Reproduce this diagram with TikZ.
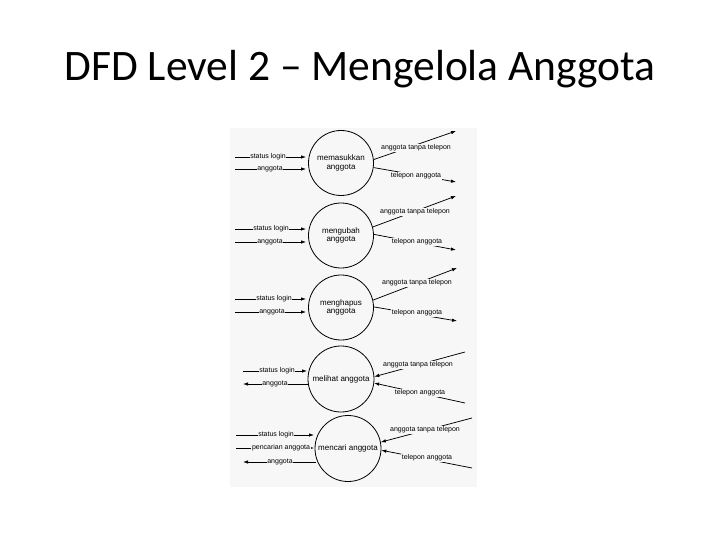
\documentclass[tikz,border=0pt]{standalone}
\usepackage{fontspec}
\setmainfont{Carlito}
\newfontfamily\arialf{Liberation Sans}
\usetikzlibrary{arrows.meta}
\definecolor{scanbg}{HTML}{F7F7F8}
\tikzset{
  proc/.style={circle, draw, line width=0.8pt, minimum size=65pt, inner sep=0pt,
    align=center, font=\arialf\fontsize{8}{8.5}\selectfont},
  flow/.style={line width=0.75pt, -{Latex[length=5pt,width=3.5pt]}},
  lab/.style={fill=scanbg, inner xsep=0.6pt, inner ysep=1.2pt, font=\arialf\fontsize{7}{7}\selectfont}
}
\begin{document}
\begin{tikzpicture}[x=1pt,y=-1pt]
\useasboundingbox (0,0) rectangle (720,540);
\fill[white] (0,0) rectangle (720,540);
\node[font=\fontsize{43.5}{46}\selectfont, anchor=base, inner sep=0pt] (title) at (360,81) {DFD Level 2 – Mengelola Anggota};
\fill[scanbg] (230,128) rectangle (477,487);

% processes
\node[proc] (c1) at (341,163) {memasukkan\\anggota};
\node[proc] (c2) at (341,235.5) {mengubah\\anggota};
\node[proc] (c3) at (341,307.5) {menghapus\\anggota};
\node[proc, minimum size=66pt] (c4) at (341,379) {melihat anggota};
\node[proc, minimum size=66pt] (c5) at (348,448.5) {mencari anggota};

% free ends
\coordinate (a1s) at (235,157); \coordinate (a1e) at (306,157);
\coordinate (b1s) at (235,169); \coordinate (b1e) at (306,169);
\coordinate (a2s) at (235,229); \coordinate (a2e) at (306,229);
\coordinate (b2s) at (235,242); \coordinate (b2e) at (306,242);
\coordinate (a3s) at (235,299); \coordinate (a3e) at (306,299);
\coordinate (b3s) at (235,312); \coordinate (b3e) at (306,312);
\coordinate (a4s) at (243,371); \coordinate (a4e) at (307,371);
\coordinate (b4s) at (308,384); \coordinate (b4e) at (243,384);
\coordinate (a5s) at (236,435); \coordinate (a5e) at (314,435);
\coordinate (p5s) at (236,448); \coordinate (p5e) at (314,448);
\coordinate (b5s) at (316,462); \coordinate (b5e) at (243,462);

\coordinate (o1a) at (456,131); \coordinate (o1b) at (456,182);
\coordinate (o2a) at (456,196); \coordinate (o2b) at (456,250);
\coordinate (o3a) at (457,268); \coordinate (o3b) at (457,321);
\coordinate (i4a) at (465,352); \coordinate (i4b) at (465,403);
\coordinate (i5a) at (472,418); \coordinate (i5b) at (472,468);

% left flows
\draw[flow] (a1s) -- (a1e);
\draw[flow] (b1s) -- (b1e);
\draw[flow] (a2s) -- (a2e);
\draw[flow] (b2s) -- (b2e);
\draw[flow] (a3s) -- (a3e);
\draw[flow] (b3s) -- (b3e);
\draw[flow] (a4s) -- (a4e);
\draw[flow] (b4s) -- (b4e);
\draw[flow] (a5s) -- (a5e);
\draw[flow] (p5s) -- (p5e);
\draw[flow] (b5s) -- (b5e);

\node[lab] (la1) at (268,157) {status login};
\node[lab] (lb1) at (270,169) {anggota};
\node[lab] (la2) at (271,229) {status login};
\node[lab] (lb2) at (270,242) {anggota};
\node[lab] (la3) at (274,299) {status login};
\node[lab] (lb3) at (272,312) {anggota};
\node[lab] (la4) at (277,371) {status login};
\node[lab] (lb4) at (275,384) {anggota};
\node[lab] (la5) at (276,435) {status login};
\node[lab] (lp5) at (281,448) {pencarian anggota};
\node[lab] (lb5) at (280,462) {anggota};

% right flows
\draw[flow] (c1.6) -- (o1a);
\draw[flow] (c1.-8) -- (o1b);
\draw[flow] (c2.15) -- (o2a);
\draw[flow] (c2.2) -- (o2b);
\draw[flow] (c3.13) -- (o3a);
\draw[flow] (c3.1) -- (o3b);
\draw[flow] (i4a) -- (c4.4);
\draw[flow] (i4b) -- (c4.-7);
\draw[flow] (i5a) -- (c5.11);
\draw[flow] (i5b) -- (c5.-3);

\node[lab] (ra1) at (416,148) {anggota tanpa telepon};
\node[lab] (rb1) at (416,176) {telepon anggota};
\node[lab] (ra2) at (415,212) {anggota tanpa telepon};
\node[lab] (rb2) at (417,242) {telepon anggota};
\node[lab] (ra3) at (417,283) {anggota tanpa telepon};
\node[lab] (rb3) at (417,313) {telepon anggota};
\node[lab] (ra4) at (418,365) {anggota tanpa telepon};
\node[lab] (rb4) at (420,393) {telepon anggota};
\node[lab] (ra5) at (425,430) {anggota tanpa telepon};
\node[lab] (rb5) at (427,458) {telepon anggota};
\end{tikzpicture}
\end{document}
